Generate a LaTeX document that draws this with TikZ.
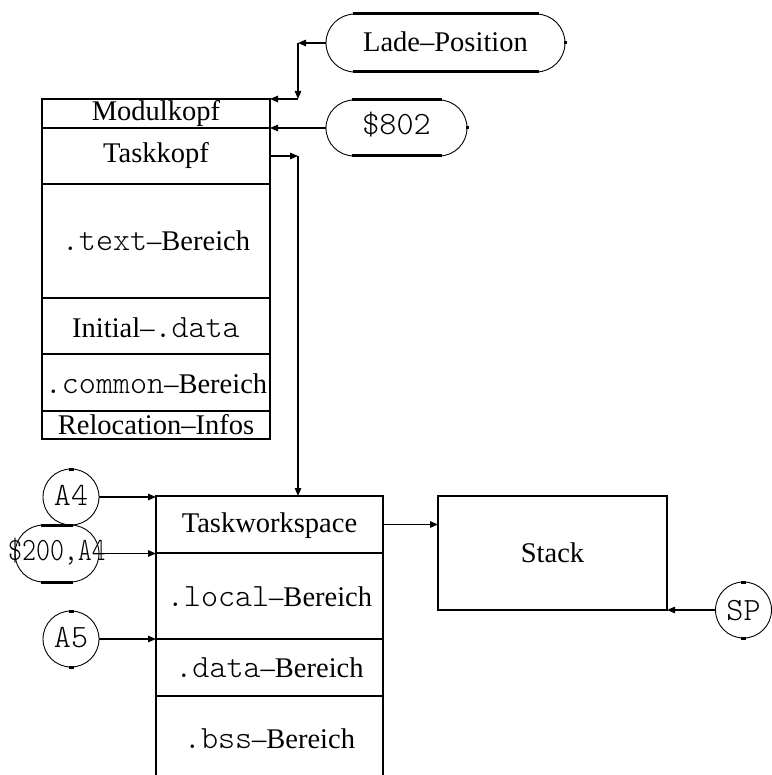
\documentclass[tikz,border=0pt]{standalone}
\usepackage{fontspec}
\setmainfont{Liberation Serif}
\setmonofont{Latin Modern Mono Light}[Scale=1.14]
\usetikzlibrary{arrows.meta,shapes.misc,calc}

\begin{document}
\begin{tikzpicture}[x=1pt,y=-1pt,
  every node/.style={inner sep=0pt, outer sep=0pt,
    font=\fontsize{28.5pt}{34pt}\selectfont, text height=18pt, text depth=0pt},
  cell/.style={draw, rectangle, line width=1.7pt},
  sep/.style={line width=2.5pt},
  thickedge/.style={line width=2.8pt},
  arr/.style={line width=1.3pt, -{Triangle[length=8pt,width=6.5pt]}},
  ring/.style={draw, circle, line width=0.9pt, minimum size=56pt},
  pill/.style={draw, rounded rectangle, line width=0.9pt},
  flat/.style={line width=3pt},
  nub/.style={line width=3pt}
]
\useasboundingbox (0,0) rectangle (771,775);

% module image (upper column)
\node[cell, minimum width=228pt, minimum height=29pt, text height=14pt] (modul) at (156,113.5) {Modulkopf};
\node[cell, minimum width=228pt, minimum height=56pt, text height=14pt] (task) at (156,156) {Taskkopf};
\node[cell, minimum width=228pt, minimum height=114pt, text height=20pt] (text) at (156,241) {\texttt{.text}--Bereich};
\node[cell, minimum width=228pt, minimum height=56pt, text height=22pt] (init) at (156,326) {Initial--\texttt{.data}};
\node[cell, minimum width=228pt, minimum height=57pt, text height=21pt] (common) at (156,382.5) {\makebox[0pt]{\texttt{.common}--Bereich}};
\node[cell, minimum width=228pt, minimum height=28pt, text height=18pt] (reloc) at (156,425) {Relocation--Infos};
\draw[thickedge] (modul.north east) -- (reloc.south east);
\foreach \c in {modul,task,text,init,common}
  \draw[sep] (\c.south west) -- (\c.south east);

% task workspace (lower column)
\node[cell, minimum width=227pt, minimum height=57pt, text height=15pt] (tws) at (269.5,524.5) {Taskworkspace};
\node[cell, minimum width=227pt, minimum height=86pt, text height=20pt] (local) at (269.5,596) {\texttt{.local}--Bereich};
\node[cell, minimum width=227pt, minimum height=57pt, text height=19pt] (data) at (269.5,667.5) {\texttt{.data}--Bereich};
\node[minimum width=227pt, minimum height=79pt, text height=25pt] (bss) at (269.5,735.5) {\texttt{.bss}--Bereich};
\draw[line width=1.7pt] (bss.south west) -- (bss.north west);
\draw[thickedge] (tws.north east) -- (bss.south east);
\foreach \c in {tws,local,data}
  \draw[sep] (\c.south west) -- (\c.south east);

% stack
\node[cell, line width=2pt, minimum width=229pt, minimum height=114pt, text height=18pt] (stack) at (552.5,553) {Stack};
\draw[sep] (stack.south west) -- (stack.south east);

% address sources
\node[pill, minimum width=239pt, minimum height=58pt, text height=18pt] (lade) at (445.5,43) {Lade--Position};
\draw[flat] ($(lade.north)+(-93,0)$) -- ($(lade.north)+(93,0)$);
\draw[flat] ($(lade.south)+(-93,0)$) -- ($(lade.south)+(93,0)$);
\draw[nub] ($(lade.east)+(0,-1.5)$) -- ($(lade.east)+(0,1.5)$);

\node[pill, minimum width=141pt, minimum height=56pt, text height=14pt] (s802) at (396.5,128) {\texttt{\$802}};
\draw[flat] ($(s802.north)+(-45,0)$) -- ($(s802.north)+(45,0)$);
\draw[flat] ($(s802.south)+(-45,0)$) -- ($(s802.south)+(45,0)$);
\draw[nub] ($(s802.east)+(0,-1.5)$) -- ($(s802.east)+(0,1.5)$);

\node[ring, text height=16pt] (a4) at (71,497) {\texttt{A4}};
\draw[nub] ($(a4.north)+(-2.5,0)$) -- ($(a4.north)+(2.5,0)$);

\node[pill, minimum width=84pt, minimum height=57pt, text height=14pt] (s200) at (57,553.5) {\makebox[0pt]{\scalebox{0.82}[1]{\texttt{\$200,A4}}}};
\draw[flat] ($(s200.north)+(-16,0)$) -- ($(s200.north)+(16,0)$);
\draw[flat] ($(s200.south)+(-16,0)$) -- ($(s200.south)+(16,0)$);

\node[ring, text height=16pt] (a5) at (71,639) {\texttt{A5}};
\draw[nub] ($(a5.north)+(-2.5,0)$) -- ($(a5.north)+(2.5,0)$);
\draw[nub] ($(a5.south)+(-2.5,0)$) -- ($(a5.south)+(2.5,0)$);

\node[ring, text height=20pt] (sp) at (743.5,610) {\texttt{SP}};
\draw[nub] ($(sp.north)+(-2.5,0)$) -- ($(sp.north)+(2.5,0)$);
\draw[nub] ($(sp.south)+(-2.5,0)$) -- ($(sp.south)+(2.5,0)$);

% connectors
\coordinate (k1) at (298,43);
\coordinate (k2) at (298,99);
\coordinate (k3) at (298,156);
\draw[arr] (lade.west) -- (k1);
\draw[arr] (k1) -- (k2);
\draw[arr] (k2) -- (modul.north east);
\draw[arr] (s802.west) -- (modul.south east);
\draw[arr] (task.east) -- (k3);
\draw[arr] (k3) -- (k3 |- tws.north);
\draw[arr] (a4.east) -- (a4.east -| tws.west);
\draw[arr] (s200.east) -- (s200.east -| tws.west);
\draw[arr] (a5.east) -- (a5.east -| data.west);
\draw[arr] (tws.east) -- (tws.east -| stack.west);
\draw[arr] (sp.west) -- (sp.west -| stack.east);
\end{tikzpicture}
\end{document}
